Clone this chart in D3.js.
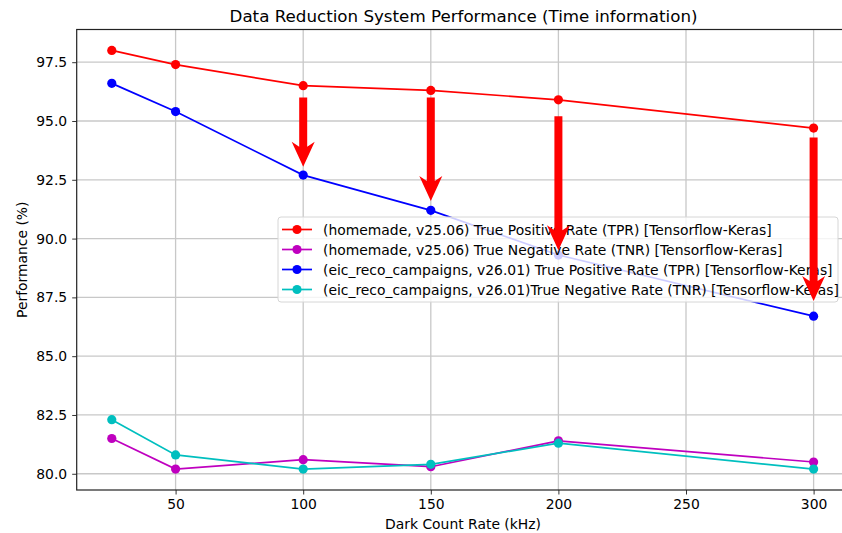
<!DOCTYPE html>
<html lang="en">
  <head>
    <meta charset="UTF-8" />
    <title>Data Reduction System Performance</title>
    <style>
      body {
        margin: 0;
        background: #fff;
      }
      svg text {
        font-family: "DejaVu Sans", sans-serif;
        fill: #000;
      }
    </style>
  </head>
  <body>
    <script src="https://d3js.org/d3.v7.min.js"></script>
    <script>

// data
var rates = [25, 50, 100, 150, 200, 300];
var homemadeTPR = [98.0, 97.4, 96.5, 96.3, 95.9, 94.7];
var homemadeTNR = [81.5, 80.2, 80.6, 80.3, 81.4, 80.5];
var eicTPR = [96.6, 95.4, 92.7, 91.2, 89.3, 86.7];
var eicTNR = [82.3, 80.8, 80.2, 80.4, 81.3, 80.2];

var xTicks = [50, 100, 150, 200, 250, 300];
var yTicks = [80.0, 82.5, 85.0, 87.5, 90.0, 92.5, 95.0, 97.5];

// arrows from homemade TPR down to eic TPR
var arrowX = [100, 150, 200, 300];
var arrowFrom = [96.0, 96.0, 95.2, 94.3];
var arrowTo = [93.05, 91.6, 89.5, 87.35];

var series = [
  { name: "(homemade, v25.06) True Positive Rate (TPR) [Tensorflow-Keras]", color: "#ff0000", values: homemadeTPR },
  { name: "(homemade, v25.06) True Negative Rate (TNR) [Tensorflow-Keras]", color: "#bf00bf", values: homemadeTNR },
  { name: "(eic_reco_campaigns, v26.01) True Positive Rate (TPR) [Tensorflow-Keras]", color: "#0000ff", values: eicTPR },
  { name: "(eic_reco_campaigns, v26.01)True Negative Rate (TNR) [Tensorflow-Keras]", color: "#00bfbf", values: eicTNR }
];

var W = 842,
    H = 533,
    plotLeft = 76.7,
    plotRight = 848.7,
    plotTop = 29.5,
    plotBottom = 490;

var svg = d3.select("body").append("svg")
    .attr("width", W)
    .attr("height", H);

var x = d3.scaleLinear().domain([11.25, 313.75]).range([plotLeft, plotRight]);
var y = d3.scaleLinear().domain([79.31, 98.89]).range([plotBottom, plotTop]);

// grid
var grid = svg.append("g");
grid.selectAll(".gx").data(xTicks).enter().append("line")
    .attr("x1", d => x(d)).attr("x2", d => x(d))
    .attr("y1", plotTop).attr("y2", plotBottom)
    .attr("stroke", "#c8c8c8").attr("stroke-width", 1.3);
grid.selectAll(".gy").data(yTicks).enter().append("line")
    .attr("x1", plotLeft).attr("x2", plotRight)
    .attr("y1", d => y(d)).attr("y2", d => y(d))
    .attr("stroke", "#c8c8c8").attr("stroke-width", 1.3);

// axes
var xAxis = svg.append("g")
    .attr("transform", "translate(0," + plotBottom + ")")
    .call(d3.axisBottom(x).tickValues(xTicks).tickSize(4.5).tickPadding(5).tickFormat(d3.format("d")));
var yAxis = svg.append("g")
    .attr("transform", "translate(" + plotLeft + ",0)")
    .call(d3.axisLeft(y).tickValues(yTicks).tickSize(4.5).tickPadding(5).tickFormat(d3.format(".1f")));

[xAxis, yAxis].forEach(function(a) {
  a.select(".domain").remove();
  a.selectAll(".tick line").attr("stroke", "#333");
  a.selectAll(".tick text").attr("font-size", 13.9).attr("fill", "#222")
      .attr("font-family", "DejaVu Sans");
});

// frame
svg.append("rect")
    .attr("x", plotLeft).attr("y", plotTop)
    .attr("width", plotRight - plotLeft).attr("height", plotBottom - plotTop)
    .attr("fill", "none").attr("stroke", "#222").attr("stroke-width", 1.2);

// lines
var line = d3.line()
    .x((d, i) => x(rates[i]))
    .y(d => y(d));

series.forEach(function(s) {
  svg.append("path")
      .datum(s.values)
      .attr("d", line)
      .attr("fill", "none")
      .attr("stroke", s.color)
      .attr("stroke-width", 1.7);
  svg.selectAll(null).data(s.values).enter().append("circle")
      .attr("cx", (d, i) => x(rates[i]))
      .attr("cy", d => y(d))
      .attr("r", 4.6)
      .attr("fill", s.color);
});

// legend
var lg = svg.append("g").attr("transform", "translate(278,217)");
lg.append("rect")
    .attr("width", 560).attr("height", 85)
    .attr("rx", 3)
    .attr("fill", "rgba(255,255,255,0.8)")
    .attr("stroke", "#d6d6d6");
series.forEach(function(s, i) {
  var ry = 12.5 + i * 20;
  lg.append("line")
      .attr("x1", 4).attr("x2", 34)
      .attr("y1", ry).attr("y2", ry)
      .attr("stroke", s.color).attr("stroke-width", 1.7);
  lg.append("circle")
      .attr("cx", 19).attr("cy", ry).attr("r", 4.6)
      .attr("fill", s.color);
  lg.append("text")
      .attr("x", 45).attr("y", ry + 5)
      .attr("font-size", 13.9)
      .text(s.name);
});

// arrows
var shaftW = 8, headW = 23, headL = 23;
arrowX.forEach(function(ax, i) {
  var cx = x(ax), y0 = y(arrowFrom[i]), y1 = y(arrowTo[i]);
  var hb = y1 - headL;
  var pts = [
    [cx - shaftW / 2, y0], [cx + shaftW / 2, y0],
    [cx + shaftW / 2, hb + 3], [cx + headW / 2, hb - 2],
    [cx, y1],
    [cx - headW / 2, hb - 2], [cx - shaftW / 2, hb + 3]
  ];
  svg.append("path")
      .attr("d", "M" + pts.map(p => p.join(",")).join("L") + "Z")
      .attr("fill", "#ff0000");
});

// labels
svg.append("text")
    .attr("x", 463.5).attr("y", 22)
    .attr("text-anchor", "middle")
    .attr("font-size", 16.7)
    .text("Data Reduction System Performance (Time information)");

svg.append("text")
    .attr("x", 463).attr("y", 529)
    .attr("text-anchor", "middle")
    .attr("font-size", 13.9)
    .text("Dark Count Rate (kHz)");

svg.append("text")
    .attr("transform", "translate(27," + ((plotTop + plotBottom) / 2) + ") rotate(-90)")
    .attr("text-anchor", "middle")
    .attr("font-size", 13.9)
    .text("Performance (%)");

</script>
  </body>
</html>
